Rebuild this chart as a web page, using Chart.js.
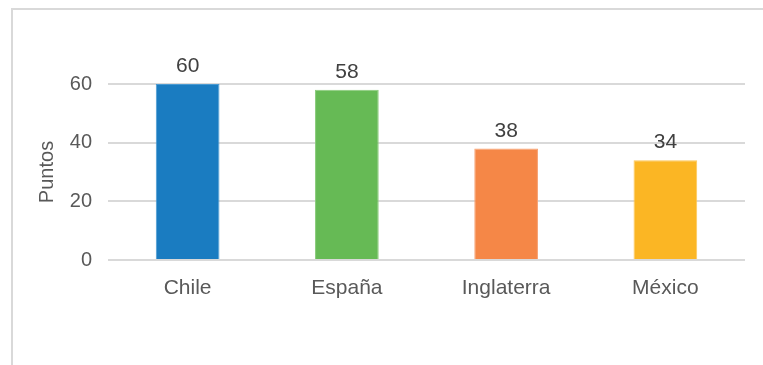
<!DOCTYPE html>
<html>
<head>
<meta charset="utf-8">
<script src="https://cdn.jsdelivr.net/npm/chart.js@4/dist/chart.umd.min.js"></script>
<style>
  html, body { margin:0; padding:0; background:#fff; }
  #wrap { position:relative; width:763px; height:365px; overflow:hidden; }
  #frame { position:absolute; left:11px; top:8px; width:800px; height:355px;
           border-top:2px solid #d9d9d9; border-left:2px solid #d9d9d9; border-bottom:1px solid #eeeeee; }
  #chartPuntos { position:absolute; left:0; top:0; }
</style>
</head>
<body>
<div id="wrap">
  <div id="frame"></div>
  <canvas id="chartPuntos" width="763" height="365"></canvas>
</div>
<script>
// Puntos por país
const paises = ['Chile', 'España', 'Inglaterra', 'México'];
const puntos = [60, 58, 38, 34];
const colores = ['#1a7cc1', '#66ba55', '#f58747', '#fbb624'];
const bordes = ['#4a9ad2', '#8acb7c', '#f7a274', '#fcc75a'];
const ticksY = [0, 20, 40, 60];

const FONT = "'Liberation Sans', Arial, sans-serif";
const GRIS = '#595959';

// etiquetas de valor encima de cada barra
const etiquetas = {
  id: 'etiquetas',
  afterDatasetsDraw(chart) {
    const ctx = chart.ctx;
    const meta = chart.getDatasetMeta(0);
    ctx.save();
    ctx.font = '21px ' + FONT;
    ctx.fillStyle = '#404040';
    ctx.textAlign = 'center';
    ctx.textBaseline = 'alphabetic';
    meta.data.forEach((bar, i) => {
      ctx.fillText(String(puntos[i]), bar.x, bar.y - 12);
    });
    ctx.restore();
  }
};

new Chart(document.getElementById('chartPuntos'), {
  type: 'bar',
  data: {
    labels: paises,
    datasets: [{
      data: puntos,
      backgroundColor: colores,
      borderColor: bordes,
      borderWidth: 1,
      barPercentage: 0.4,
      categoryPercentage: 1
    }]
  },
  options: {
    responsive: false,
    animation: false,
    layout: { padding: { left: 0, top: 84, right: 18, bottom: 0 } },
    plugins: { legend: { display: false }, tooltip: { enabled: false } },
    scales: {
      x: {
        grid: { display: false, drawTicks: false },
        border: { display: false },
        ticks: { color: GRIS, font: { family: FONT, size: 21 }, padding: 16 },
        afterFit: (s) => { s.height = 105; }
      },
      y: {
        min: 0, max: 60,
        afterBuildTicks: (s) => { s.ticks = ticksY.map(v => ({ value: v })); },
        grid: { color: '#d9d9d9', lineWidth: 2, drawTicks: false },
        border: { display: false },
        ticks: { color: GRIS, font: { family: FONT, size: 20 }, padding: 16 },
        title: { display: true, text: 'Puntos', color: GRIS, font: { family: FONT, size: 20 }, padding: { top: 35 } },
        afterFit: (s) => { s.width = 108; }
      }
    }
  },
  plugins: [etiquetas]
});
</script>
</body>
</html>
